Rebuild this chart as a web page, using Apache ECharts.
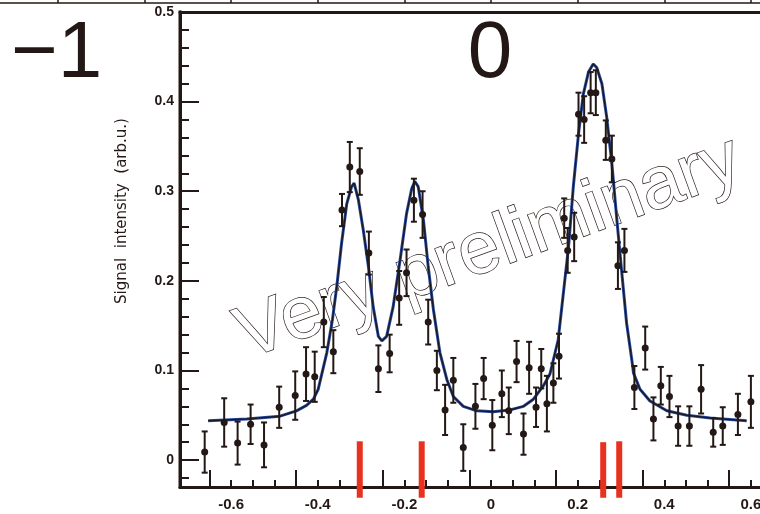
<!DOCTYPE html>
<html>
<head>
<meta charset="utf-8">
<script src="https://cdn.jsdelivr.net/npm/echarts@6/dist/echarts.min.js"></script>
<style>
  html, body { margin: 0; padding: 0; background: #fff; }
  #chart { width: 760px; height: 514px; }
</style>
</head>
<body>
<div id="chart"></div>
<script>
// measured points with error bars
var ptX = [-0.661, -0.616, -0.585, -0.555, -0.524, -0.489, -0.452, -0.427, -0.407, -0.386, -0.364,
  -0.344, -0.326, -0.303, -0.282, -0.260, -0.234, -0.212, -0.195, -0.178, -0.158, -0.145, -0.125,
  -0.106, -0.087, -0.064, -0.036, -0.017, 0.003, 0.025, 0.041, 0.059, 0.075, 0.088, 0.104, 0.116,
  0.129, 0.144, 0.157, 0.169, 0.177, 0.192, 0.202, 0.215, 0.230, 0.242, 0.265, 0.279, 0.293, 0.308,
  0.331, 0.356, 0.375, 0.392, 0.412, 0.432, 0.458, 0.485, 0.513, 0.535, 0.570, 0.600];
var ptY = [0.009, 0.042, 0.019, 0.040, 0.017, 0.059, 0.072, 0.096, 0.093, 0.154, 0.121,
  0.279, 0.327, 0.322, 0.231, 0.102, 0.119, 0.181, 0.209, 0.290, 0.274, 0.154, 0.100,
  0.056, 0.089, 0.014, 0.060, 0.091, 0.039, 0.074, 0.055, 0.110, 0.029, 0.103, 0.059, 0.102,
  0.063, 0.086, 0.116, 0.270, 0.234, 0.249, 0.386, 0.380, 0.410, 0.410, 0.357, 0.336, 0.217, 0.234,
  0.081, 0.125, 0.046, 0.083, 0.071, 0.038, 0.038, 0.079, 0.031, 0.038, 0.051, 0.065];
var ptErr = [0.023, 0.027, 0.024, 0.022, 0.025, 0.023, 0.027, 0.030, 0.028, 0.028, 0.024,
  0.018, 0.028, 0.026, 0.024, 0.026, 0.021, 0.030, 0.026, 0.024, 0.026, 0.025, 0.022,
  0.028, 0.025, 0.026, 0.025, 0.023, 0.028, 0.026, 0.026, 0.023, 0.023, 0.029, 0.022, 0.022,
  0.031, 0.022, 0.025, 0.022, 0.025, 0.027, 0.024, 0.026, 0.023, 0.025, 0.022, 0.026, 0.026, 0.024,
  0.024, 0.024, 0.024, 0.021, 0.023, 0.022, 0.022, 0.027, 0.016, 0.021, 0.023, 0.029];

// fitted curve
var fitX = [-0.653, -0.564, -0.487, -0.449, -0.426, -0.410, -0.399, -0.379, -0.366, -0.356, -0.345,
  -0.333, -0.322, -0.316, -0.306, -0.295, -0.283, -0.272, -0.260, -0.252, -0.241, -0.226, -0.210,
  -0.195, -0.183, -0.176, -0.168, -0.156, -0.145, -0.133, -0.118, -0.102, -0.087, -0.064, -0.033,
  0.005, 0.044, 0.075, 0.098, 0.121, 0.136, 0.144, 0.155, 0.167, 0.179, 0.190, 0.202, 0.213, 0.225,
  0.236, 0.244, 0.256, 0.267, 0.279, 0.290, 0.302, 0.313, 0.325, 0.329, 0.344, 0.367, 0.406, 0.452,
  0.506, 0.590];
var fitY = [0.044, 0.046, 0.049, 0.055, 0.061, 0.068, 0.079, 0.120, 0.157, 0.194, 0.242,
  0.286, 0.305, 0.309, 0.290, 0.257, 0.216, 0.171, 0.138, 0.133, 0.138, 0.171, 0.223,
  0.275, 0.303, 0.311, 0.305, 0.268, 0.216, 0.168, 0.120, 0.090, 0.071, 0.060, 0.055,
  0.054, 0.056, 0.060, 0.068, 0.083, 0.096, 0.112, 0.134, 0.186, 0.238, 0.305, 0.364, 0.408, 0.433,
  0.442, 0.438, 0.420, 0.383, 0.331, 0.271, 0.209, 0.153, 0.112, 0.097, 0.079, 0.066, 0.055, 0.050,
  0.047, 0.044];

// red markers under the peaks
var markX = [-0.303, -0.160, 0.259, 0.296];
var markTop = [0.021, 0.021, 0.020, 0.021];
var markBottom = [-0.042, -0.042, -0.042, -0.042];

// ticks and labels
var xLabels = [-0.6, -0.4, -0.2, 0, 0.2, 0.4, 0.6];
var xMajorTicks = [-0.65, -0.45, -0.25, -0.05, 0.15, 0.35, 0.55];
var xMinorTicks = [-0.65, -0.6, -0.55, -0.5, -0.45, -0.4, -0.35, -0.3, -0.25, -0.2, -0.15, -0.1,
  -0.05, 0, 0.05, 0.1, 0.15, 0.2, 0.25, 0.3, 0.35, 0.4, 0.45, 0.5, 0.55, 0.6];
var yLabels = [0, 0.1, 0.2, 0.3, 0.4, 0.5];
var yMinorTicks = [-0.02, 0.02, 0.04, 0.06, 0.08, 0.12, 0.14, 0.16, 0.18, 0.22, 0.24, 0.26, 0.28,
  0.32, 0.34, 0.36, 0.38, 0.42, 0.44, 0.46, 0.48];
var topPanelTicks = [-1.0, -0.8, -0.6, -0.4, -0.2, 0, 0.2, 0.4, 0.6];

var INK = '#231815';
var X_MIN = -0.718, X_MAX = 0.621, Y_MIN = -0.03, Y_MAX = 0.5;

var pts = ptX.map(function (x, i) { return [x, ptY[i], ptErr[i]]; });
var fit = fitX.map(function (x, i) { return [x, fitY[i]]; });
var marks = markX.map(function (x, i) { return [x, markTop[i], markBottom[i]]; });

var chart = echarts.init(document.getElementById('chart'), null, { renderer: 'canvas' });

function numLabel(v) { return v === 0 ? '0' : v.toFixed(1); }

var option = {
  animation: false,
  backgroundColor: '#fff',
  grid: [
    { left: 180, right: 0, top: 12, bottom: 27, outerBoundsMode: 'none' },
    { left: 0, right: 0, top: 0, height: 3, outerBoundsMode: 'none' },
    // same box as the main panel, only carries the short ticks
    { left: 180, right: 0, top: 12, bottom: 27, outerBoundsMode: 'none' }
  ],
  xAxis: [
    {
      gridIndex: 0, type: 'value', position: 'bottom', min: X_MIN, max: X_MAX,
      axisLine: { show: true, onZero: false, lineStyle: { color: INK, width: 3 } },
      axisTick: { inside: true, length: 17, customValues: xMajorTicks, lineStyle: { color: INK, width: 2 } },
      axisLabel: {
        customValues: xLabels, margin: 10, color: INK,
        fontFamily: 'Liberation Sans', fontWeight: 'bold', fontSize: 15,
        formatter: numLabel
      },
      splitLine: { show: false }
    },
    {
      gridIndex: 0, type: 'value', position: 'top', min: X_MIN, max: X_MAX,
      axisLine: { show: true, onZero: false, lineStyle: { color: INK, width: 3 } },
      axisTick: { show: false }, axisLabel: { show: false }, splitLine: { show: false }
    },
    {
      gridIndex: 1, type: 'value', position: 'bottom', min: -1.134, max: X_MAX,
      axisLine: { show: true, onZero: false, lineStyle: { color: INK, width: 1.5 } },
      axisTick: { inside: true, length: 4, customValues: topPanelTicks, lineStyle: { color: INK, width: 1.5 } },
      axisLabel: { show: false }, splitLine: { show: false }
    },
    {
      gridIndex: 2, type: 'value', position: 'bottom', min: X_MIN, max: X_MAX,
      axisLine: { show: false, onZero: false },
      axisTick: { inside: true, length: 7, customValues: xMinorTicks, lineStyle: { color: INK, width: 2 } },
      axisLabel: { show: false }, splitLine: { show: false }
    }
  ],
  yAxis: [
    {
      gridIndex: 0, type: 'value', position: 'left', min: Y_MIN, max: Y_MAX,
      axisLine: { show: true, onZero: false, lineStyle: { color: INK, width: 3 } },
      axisTick: { show: true, inside: true, length: 19, customValues: yLabels, lineStyle: { color: INK, width: 2 } },
      axisLabel: {
        customValues: yLabels, margin: 6, color: INK,
        fontFamily: 'Liberation Sans', fontWeight: 'bold', fontSize: 14,
        formatter: numLabel
      },
      splitLine: { show: false }
    },
    { gridIndex: 1, type: 'value', show: false },
    {
      gridIndex: 2, type: 'value', position: 'left', min: Y_MIN, max: Y_MAX,
      axisLine: { show: false, onZero: false },
      axisTick: { show: true, inside: true, length: 9, customValues: yMinorTicks, lineStyle: { color: INK, width: 2 } },
      axisLabel: { show: false }, splitLine: { show: false }
    }
  ],
  graphic: [
    {
      type: 'text', x: 489, y: 249, rotation: 20 * Math.PI / 180, z: 0,
      style: {
        text: 'Very preliminary', fill: '#fff', stroke: INK, lineWidth: 1.4,
        font: 'normal 74px "Liberation Sans"', textAlign: 'center', textVerticalAlign: 'middle'
      }
    },
    {
      type: 'text', x: 11, y: 55,
      style: { text: '\u22121', fill: INK, font: 'normal 80px "Liberation Sans"', textAlign: 'left', textVerticalAlign: 'middle' }
    },
    {
      type: 'text', x: 490, y: 55,
      style: { text: '0', fill: INK, font: 'normal 80px "Liberation Sans"', textAlign: 'center', textVerticalAlign: 'middle' }
    },
    {
      type: 'text', x: 122, y: 211, rotation: Math.PI / 2,
      style: {
        text: 'Signal  intensity  (arb.u.)', fill: INK, font: 'normal 15px "DejaVu Sans"',
        textAlign: 'center', textVerticalAlign: 'middle'
      }
    }
  ],
  series: [
    {
      // left frame of the panel, placed through the axes at the x minimum
      type: 'custom', xAxisIndex: 0, yAxisIndex: 0, data: [[X_MIN]], clip: false, z: 100,
      renderItem: function (params, api) {
        var top = api.coord([X_MIN, Y_MAX]);
        var bot = api.coord([X_MIN, Y_MIN]);
        return {
          type: 'rect',
          shape: { x: top[0] - 1.5, y: top[1] - 1.5, width: 3, height: bot[1] - top[1] + 3 },
          style: { fill: INK }
        };
      }
    },
    {
      // red markers, allowed to run below the axis
      type: 'custom', xAxisIndex: 0, yAxisIndex: 0, data: marks, clip: false, z: 8,
      renderItem: function (params, api) {
        var top = api.coord([api.value(0), api.value(1)]);
        var bot = api.coord([api.value(0), api.value(2)]);
        return {
          type: 'rect',
          shape: { x: top[0] - 3, y: top[1], width: 6, height: bot[1] - top[1] },
          style: { fill: '#e8321e' }
        };
      }
    },
    {
      type: 'line', xAxisIndex: 0, yAxisIndex: 0, data: fit, symbol: 'none', z: 4,
      lineStyle: { color: '#2c4fa8', width: 3 }
    },
    {
      type: 'line', xAxisIndex: 0, yAxisIndex: 0, data: fit, symbol: 'none', z: 5,
      lineStyle: { color: '#1a1a24', width: 1.5 }
    },
    {
      // error bars with caps
      type: 'custom', xAxisIndex: 0, yAxisIndex: 0, data: pts, z: 6,
      renderItem: function (params, api) {
        var x = api.value(0), y = api.value(1), e = api.value(2);
        var lo = api.coord([x, y - e]);
        var hi = api.coord([x, y + e]);
        var st = { stroke: INK, lineWidth: 2 };
        return {
          type: 'group',
          children: [
            { type: 'line', shape: { x1: lo[0], y1: lo[1], x2: hi[0], y2: hi[1] }, style: st },
            { type: 'line', shape: { x1: lo[0] - 3, y1: lo[1], x2: lo[0] + 3, y2: lo[1] }, style: st },
            { type: 'line', shape: { x1: hi[0] - 3, y1: hi[1], x2: hi[0] + 3, y2: hi[1] }, style: st }
          ]
        };
      }
    },
    {
      type: 'scatter', xAxisIndex: 0, yAxisIndex: 0, z: 7,
      data: pts.map(function (p) { return [p[0], p[1]]; }),
      symbol: 'circle', symbolSize: 7, itemStyle: { color: INK, opacity: 1 }
    }
  ]
};

chart.setOption(option);
</script>
</body>
</html>
